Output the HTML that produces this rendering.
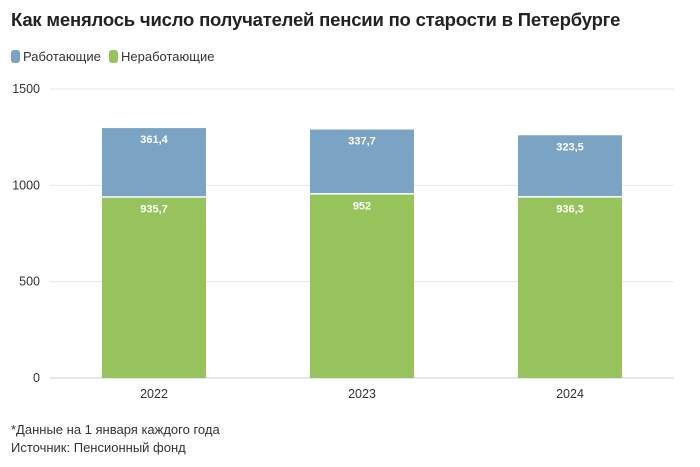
<!DOCTYPE html>
<html><head><meta charset="utf-8"><style>
body{margin:0;background:#fff;width:700px;height:467px;overflow:hidden;font-family:"Liberation Sans","DejaVu Sans",sans-serif;color:#333}
#title{position:absolute;left:11px;top:9px;font-size:18.5px;font-weight:bold;color:#222;letter-spacing:-0.2px;white-space:nowrap}
.leg{position:absolute;top:49px;font-size:13px;display:flex;align-items:center}
.sw{width:9px;height:13px;border-radius:3px;margin-right:3px}
.foot{position:absolute;left:11px;font-size:13px;color:#333}
</style></head><body>
<div id="title">Как менялось число получателей пенсии по старости в Петербурге</div>
<div class="leg" style="left:11px"><div class="sw" style="background:#7aa3c4"></div>Работающие</div>
<div class="leg" style="left:109px"><div class="sw" style="background:#96c35c"></div>Неработающие</div>
<svg id="chart" width="700" height="467" style="position:absolute;left:0;top:0"></svg>
<div class="foot" style="top:422px">*Данные на 1 января каждого года</div>
<div class="foot" style="top:440px">Источник: Пенсионный фонд</div>
<script>
const categories=["2022","2023","2024"];
const nonWorking=[935.7,952,936.3];
const working=[361.4,337.7,323.5];
const nonWorkingLabels=["935,7","952","936,3"];
const workingLabels=["361,4","337,7","323,5"];
const yTicks=[0,500,1000,1500];
const svg=document.getElementById('chart');
const NS='http://www.w3.org/2000/svg';
const x0=50,x1=674,yBase=378,yTop=89,yMax=1500;
const y=v=>yBase-(v/yMax)*(yBase-yTop);
const band=(x1-x0)/categories.length;
const xc=i=>x0+band*(i+0.5);
const bw=104;
function mk(t,a){const e=document.createElementNS(NS,t);for(const k in a)e.setAttribute(k,a[k]);svg.appendChild(e);return e;}
yTicks.forEach(v=>{
 const l=mk('line',{x1:x0,x2:x1,y1:y(v),y2:y(v),stroke:v===0?'#ccc':'#e6e6e6','stroke-width':1});
 
 
 const t=mk('text',{x:40,y:y(v)+4,'text-anchor':'end','font-size':12.5,fill:'#333'});
 t.textContent=v;
 
 
});
categories.forEach((c,i)=>{
 const g=mk('rect',{x:xc(i)-bw/2,y:y(nonWorking[i]),width:bw,height:yBase-y(nonWorking[i]),fill:'#96c35c'});
 
 
 const tot=nonWorking[i]+working[i];
 const b=mk('rect',{x:xc(i)-bw/2,y:y(tot),width:bw,height:y(nonWorking[i])-y(tot)-1.5,fill:'#7aa3c4'});
 
 
 const t1=mk('text',{x:xc(i),y:y(nonWorking[i])+15,'text-anchor':'middle','font-size':11,'font-weight':'bold',fill:'#fff'});
 t1.textContent=nonWorkingLabels[i];
 
 
 const t2=mk('text',{x:xc(i),y:y(tot)+15,'text-anchor':'middle','font-size':11,'font-weight':'bold',fill:'#fff'});
 t2.textContent=workingLabels[i];
 
 
 const xl=mk('text',{x:xc(i),y:398,'text-anchor':'middle','font-size':12.5,fill:'#333'});
 xl.textContent=c;
 
 
});
</script>
</body></html>
